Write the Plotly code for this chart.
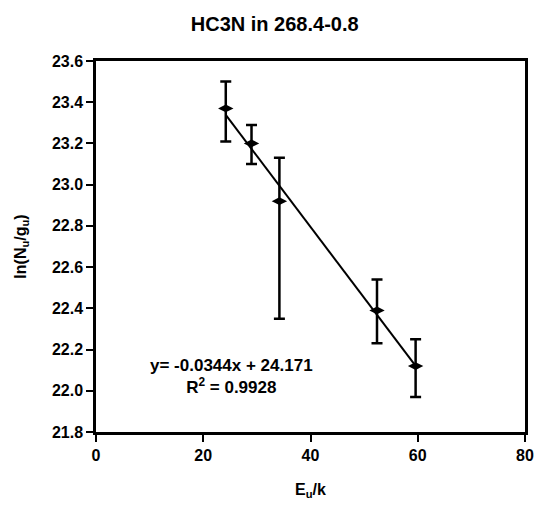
import plotly.graph_objects as go

# Data
energy = [24.2, 29.0, 34.2, 52.4, 59.6]          # E_u/k
ln_ngu = [23.37, 23.20, 22.92, 22.39, 22.12]     # ln(N_u/g_u)
err_plus = [0.13, 0.09, 0.21, 0.15, 0.13]
err_minus = [0.16, 0.10, 0.57, 0.16, 0.15]

slope = -0.0344
intercept = 24.171
r_squared = 0.9928

x_ticks = [0, 20, 40, 60, 80]
y_ticks = [21.8, 22.0, 22.2, 22.4, 22.6, 22.8, 23.0, 23.2, 23.4, 23.6]

FONT = "Liberation Sans, Arial, sans-serif"

fit_x = [min(energy), max(energy)]
fit_y = [slope * v + intercept for v in fit_x]

fig = go.Figure()
fig.add_trace(go.Scatter(
    x=fit_x, y=fit_y, mode="lines",
    line=dict(color="black", width=2), showlegend=False, hoverinfo="skip"))
fig.add_trace(go.Scatter(
    x=energy, y=ln_ngu, mode="markers",
    marker=dict(symbol="diamond-wide", size=11, color="black"),
    error_y=dict(type="data", symmetric=False, array=err_plus, arrayminus=err_minus,
                 color="black", thickness=2.5, width=5.5),
    showlegend=False))

fig.add_annotation(
    x=25.3, y=22.07, xref="x", yref="y", showarrow=False,
    text=f"y= {slope:.4f}x + {intercept:.3f}<br>R<sup>2</sup> = {r_squared:.4f}",
    font=dict(family=FONT, size=17, color="black", weight="bold"), align="center")

fig.update_layout(
    width=544, height=511,
    margin=dict(l=96, r=10, t=61, b=79),
    paper_bgcolor="white", plot_bgcolor="white",
    title=dict(text="<b>HC3N in 268.4-0.8</b>", x=0.505, xanchor="center", y=0.953, yanchor="middle",
               font=dict(family=FONT, size=20, color="black")),
    font=dict(family=FONT, color="black"),
)
fig.update_xaxes(
    range=[0, 80], tickvals=x_ticks, ticktext=[str(v) for v in x_ticks],
    showline=True, linecolor="black", linewidth=2.5, mirror=True,
    ticks="outside", ticklen=7, tickwidth=2, tickcolor="black",
    showgrid=False, zeroline=False,
    tickfont=dict(family=FONT, size=16, weight="bold"),
    title=dict(text="<b>E<sub>u</sub>/k</b>", font=dict(family=FONT, size=16), standoff=21))
fig.update_yaxes(
    range=[21.8, 23.6], tickvals=y_ticks, ticktext=[f"{v:.1f}" for v in y_ticks],
    showline=True, linecolor="black", linewidth=2.5, mirror=True,
    ticks="outside", ticklen=7, tickwidth=2, tickcolor="black",
    showgrid=False, zeroline=False,
    tickfont=dict(family=FONT, size=16, weight="bold"),
    title=dict(text="<b>ln(N<sub>u</sub>/g<sub>u</sub>)</b>", font=dict(family=FONT, size=16), standoff=22))

fig.write_html("out.html")
